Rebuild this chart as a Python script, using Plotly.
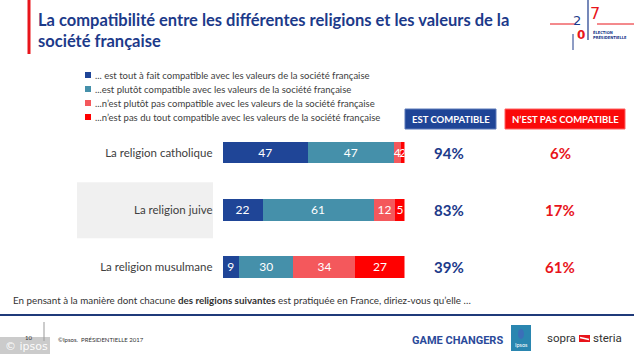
import plotly.graph_objects as go

# ---------------- data ----------------
categories = ["La religion catholique", "La religion juive", "La religion musulmane"]
series_names = [
    "... est tout à fait compatible avec les valeurs de la société française",
    "...est plutôt compatible avec les valeurs de la société française",
    "...n’est plutôt pas compatible avec les valeurs de la société française",
    "...n’est pas du tout compatible avec les valeurs de la société française",
]
tout_a_fait = [47, 22, 9]
plutot = [47, 61, 30]
plutot_pas = [4, 12, 34]
pas_du_tout = [2, 5, 27]
est_compatible = [94, 83, 39]
pas_compatible = [6, 17, 61]

series_values = [tout_a_fait, plutot, plutot_pas, pas_du_tout]
colors = ["#1f4597", "#4590aa", "#f4585c", "#ff0000"]

W, H = 634, 354
FONT = "Lato"
BLUE_T = "#1c3a8a"
RED_T = "#e8141b"


def px(x):
    return x / W


def py(y):
    return 1 - y / H


fig = go.Figure()
for name, vals, col in zip(series_names, series_values, colors):
    fig.add_trace(go.Bar(
        y=categories, x=vals, name=name, orientation="h",
        marker=dict(color=col, line=dict(width=0)),
        text=vals, texttemplate="%{text}", textposition="inside",
        insidetextanchor="middle", textangle=0,
        insidetextfont=dict(color="white", size=12, family=FONT),
        showlegend=False, hoverinfo="skip",
    ))

shapes = []
annotations = []

# gray highlight behind "La religion juive"
shapes.append(dict(type="rect", xref="paper", yref="y", x0=px(77), x1=px(213),
                   y0=0.52, y1=1.5, fillcolor="#f0f0f0", line=dict(width=0), layer="below"))

# Title with red bar
shapes.append(dict(type="line", xref="paper", yref="paper", x0=px(29), x1=px(29),
                   y0=py(0), y1=py(54), line=dict(color="#e8141b", width=3)))
annotations.append(dict(xref="paper", yref="paper", x=px(36), y=py(8), xanchor="left", yanchor="top",
                        text="<b>La compatibilité entre les différentes religions et les valeurs de la<br>société française</b>",
                        showarrow=False, align="left",
                        font=dict(family=FONT, size=16.5, color=BLUE_T)))

# manual legend
leg_y = [75, 89, 103, 117]
for name, col, yy in zip(series_names, colors, leg_y):
    shapes.append(dict(type="rect", xref="paper", yref="paper", x0=px(85), x1=px(91),
                       y0=py(yy + 3), y1=py(yy - 3), fillcolor=col, line=dict(width=0)))
    annotations.append(dict(xref="paper", yref="paper", x=px(93), y=py(yy), xanchor="left", yanchor="middle",
                            text=name, showarrow=False,
                            font=dict(family=FONT, size=9.5, color="#404040")))

# header boxes
shapes.append(dict(type="rect", xref="paper", yref="paper", x0=px(405), x1=px(496),
                   y0=py(129), y1=py(109), fillcolor="#1f4597", line=dict(color="#5a79b8", width=1)))
annotations.append(dict(xref="paper", yref="paper", x=px(450.5), y=py(119), xanchor="center", yanchor="middle",
                        text="<b>EST COMPATIBLE</b>", showarrow=False,
                        font=dict(family=FONT, size=9.5, color="white")))
shapes.append(dict(type="rect", xref="paper", yref="paper", x0=px(505), x1=px(625),
                   y0=py(129), y1=py(109), fillcolor="#fa0a0a", line=dict(color="#ff6060", width=1)))
annotations.append(dict(xref="paper", yref="paper", x=px(565), y=py(119), xanchor="center", yanchor="middle",
                        text="<b>N’EST PAS COMPATIBLE</b>", showarrow=False,
                        font=dict(family=FONT, size=9.5, color="white")))

# percentage columns
for cat, a, b in zip(categories, est_compatible, pas_compatible):
    annotations.append(dict(xref="paper", yref="y", x=px(449), y=cat, xanchor="center", yanchor="middle",
                            text=f"<b>{a}%</b>", showarrow=False,
                            font=dict(family=FONT, size=15, color=BLUE_T)))
    annotations.append(dict(xref="paper", yref="y", x=px(560), y=cat, xanchor="center", yanchor="middle",
                            text=f"<b>{b}%</b>", showarrow=False,
                            font=dict(family=FONT, size=15, color=RED_T)))

# question text
annotations.append(dict(xref="paper", yref="paper", x=px(11), y=py(300), xanchor="left", yanchor="middle",
                        text="En pensant à la manière dont chacune <b>des religions suivantes</b> est pratiquée en France, diriez-vous qu’elle …",
                        showarrow=False, font=dict(family=FONT, size=9.8, color="#333333")))

# footer line
shapes.append(dict(type="line", xref="paper", yref="paper", x0=0, x1=1, y0=py(315), y1=py(315),
                   line=dict(color="#1f3a7a", width=2)))
shapes.append(dict(type="line", xref="paper", yref="paper", x0=px(44), x1=px(44), y0=py(322), y1=py(341),
                   line=dict(color="#999999", width=1)))
annotations.append(dict(xref="paper", yref="paper", x=px(28), y=py(337), xanchor="center", yanchor="middle",
                        text="10", showarrow=False, font=dict(family=FONT, size=6, color="#333333")))
annotations.append(dict(xref="paper", yref="paper", x=px(56), y=py(339), xanchor="left", yanchor="middle",
                        text="©Ipsos.  PRÉSIDENTIELLE 2017", showarrow=False,
                        font=dict(family=FONT, size=6, color="#333333")))
# watermark
shapes.append(dict(type="rect", xref="paper", yref="paper", x0=0, x1=px(50), y0=py(354), y1=py(337),
                   fillcolor="rgba(160,160,160,0.55)", line=dict(width=0)))
annotations.append(dict(xref="paper", yref="paper", x=px(3), y=py(346), xanchor="left", yanchor="middle",
                        text="© ipsos", showarrow=False,
                        font=dict(family="DejaVu Sans", size=11, color="rgba(255,255,255,0.95)")))

# GAME CHANGERS
annotations.append(dict(xref="paper", yref="paper", x=px(457), y=py(340), xanchor="center", yanchor="middle",
                        text="<b>GAME CHANGERS</b>", showarrow=False,
                        font=dict(family="Roboto", size=11, color="#2a4a9a")))
# Ipsos logo
shapes.append(dict(type="rect", xref="paper", yref="paper", x0=px(511), x1=px(531), y0=py(351), y1=py(325),
                   fillcolor="#2a86b0", line=dict(width=0)))
shapes.append(dict(type="circle", xref="paper", yref="paper", x0=px(518), x1=px(524), y0=py(339), y1=py(329),
                   fillcolor="#3b6fb8", line=dict(width=0)))
annotations.append(dict(xref="paper", yref="paper", x=px(521), y=py(345), xanchor="center", yanchor="middle",
                        text="Ipsos", showarrow=False, font=dict(family=FONT, size=5.5, color="white")))
# sopra steria
annotations.append(dict(xref="paper", yref="paper", x=px(545), y=py(338), xanchor="left", yanchor="middle",
                        text="sopra", showarrow=False, font=dict(family="Roboto", size=11.5, color="#333333")))
shapes.append(dict(type="rect", xref="paper", yref="paper", x0=px(579), x1=px(590), y0=py(342), y1=py(335),
                   fillcolor="#e8141b", line=dict(width=0)))
shapes.append(dict(type="line", xref="paper", yref="paper", x0=px(580), x1=px(589), y0=py(337.5), y1=py(339.5),
                   line=dict(color="white", width=1.5)))
annotations.append(dict(xref="paper", yref="paper", x=px(591), y=py(338), xanchor="left", yanchor="middle",
                        text="steria", showarrow=False, font=dict(family="Roboto", size=11.5, color="#333333")))

# 2017 logo (top right)
shapes.append(dict(type="line", xref="paper", yref="paper", x0=px(550), x1=px(574), y0=py(24), y1=py(24),
                   line=dict(color="#e8141b", width=1)))
shapes.append(dict(type="line", xref="paper", yref="paper", x0=px(597), x1=px(634), y0=py(24), y1=py(24),
                   line=dict(color="#e8141b", width=1)))
shapes.append(dict(type="line", xref="paper", yref="paper", x0=px(588), x1=px(588), y0=py(0), y1=py(40),
                   line=dict(color="#1c3a8a", width=1.2)))
shapes.append(dict(type="line", xref="paper", yref="paper", x0=px(573), x1=px(573), y0=py(34), y1=py(50),
                   line=dict(color="#1c3a8a", width=1)))
annotations.append(dict(xref="paper", yref="paper", x=px(577), y=py(20), xanchor="center", yanchor="middle",
                        text="2", showarrow=False, font=dict(family="DejaVu Sans", size=13, color="#1c3a8a")))
annotations.append(dict(xref="paper", yref="paper", x=px(581), y=py(35), xanchor="center", yanchor="middle",
                        text="<b>0</b>", showarrow=False, font=dict(family="DejaVu Sans", size=12, color="#e8141b")))
annotations.append(dict(xref="paper", yref="paper", x=px(595), y=py(14), xanchor="center", yanchor="middle",
                        text="7", showarrow=False, font=dict(family="DejaVu Sans", size=16, color="#e8141b")))
annotations.append(dict(xref="paper", yref="paper", x=px(591), y=py(35), xanchor="left", yanchor="middle",
                        text="<b>ÉLECTION<br>PRÉSIDENTIELLE</b>", showarrow=False, align="left",
                        font=dict(family="DejaVu Sans Condensed", size=4, color="#1c3a8a")))

fig.update_layout(
    width=W, height=H,
    margin=dict(l=0, r=0, t=0, b=0),
    paper_bgcolor="white", plot_bgcolor="rgba(0,0,0,0)",
    barmode="stack", bargap=0.62,
    uniformtext=dict(mode="show", minsize=11),
    xaxis=dict(domain=[px(222.5), px(404.5)], range=[0, 100], visible=False, fixedrange=True),
    yaxis=dict(domain=[py(295.5), py(124)], type="category", categoryorder="array",
               categoryarray=categories, range=[2.5, -0.5],
               showgrid=False, zeroline=False, showline=False, ticks="",
               ticklabelstandoff=9,
               tickfont=dict(family=FONT, size=11.5, color="#404040")),
    shapes=shapes, annotations=annotations,
    font=dict(family=FONT),
)

fig.write_html("out.html")
